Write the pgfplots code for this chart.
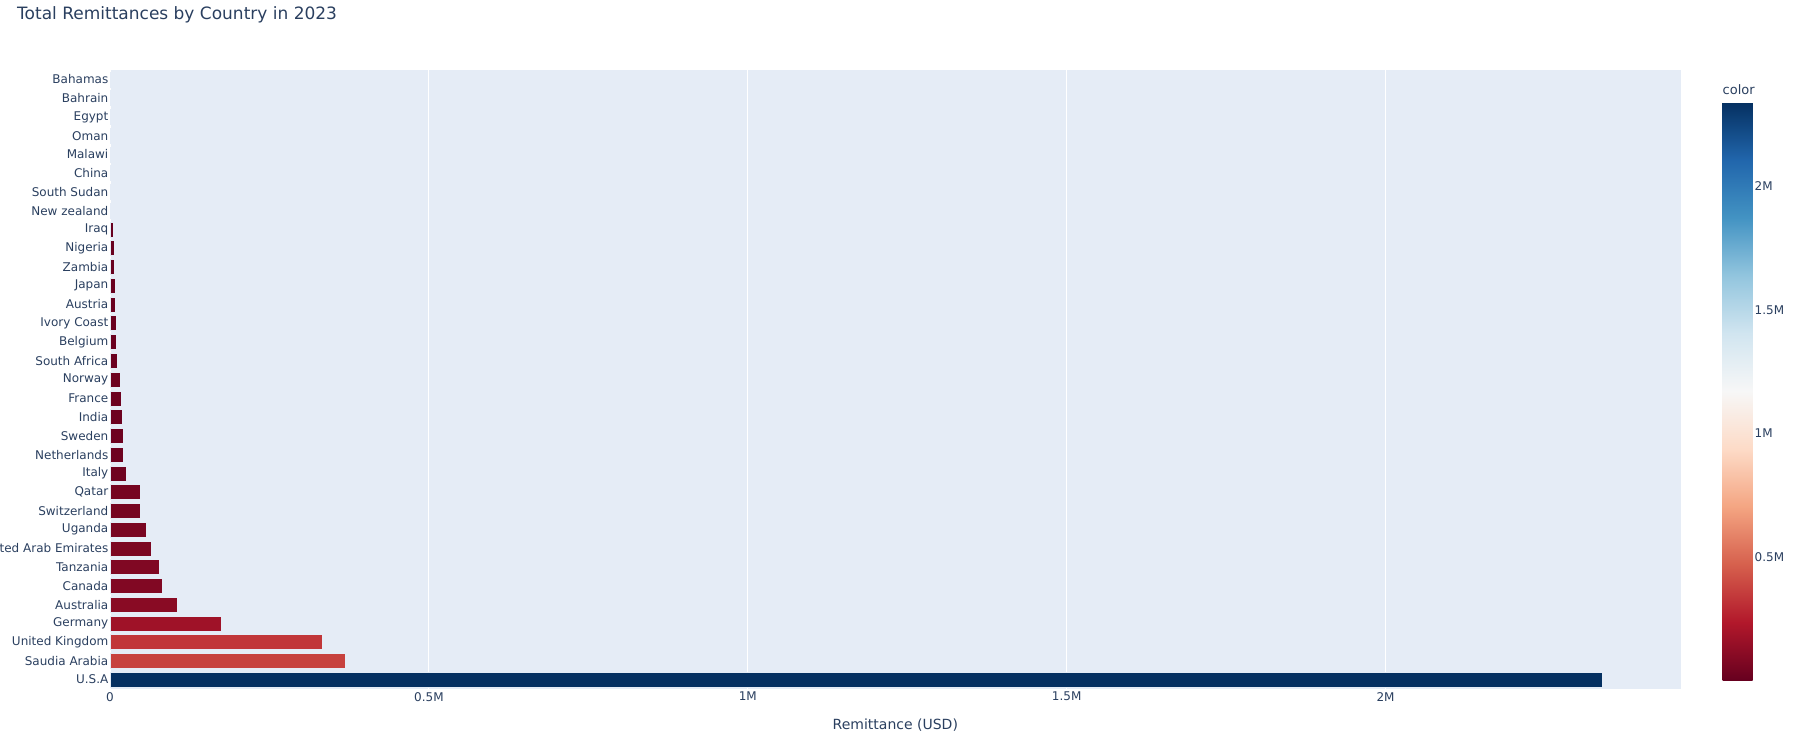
\documentclass[border=0pt]{standalone}
\usepackage{pgfplots}
\pgfplotsset{compat=1.18}
\usepackage{fontspec}
\setmainfont{DejaVu Sans}
\definecolor{txt}{RGB}{42,63,95}
\definecolor{bgc}{RGB}{229,236,246}
\definecolor{cz}{RGB}{103,0,31}
\definecolor{co}{RGB}{178,24,43}
\definecolor{ct}{RGB}{214,96,77}
\definecolor{cten}{RGB}{5,48,97}
\begin{document}
\begin{tikzpicture}
\useasboundingbox (0,0) rectangle (1811pt,744pt);
\node[anchor=base west, text=txt, font=\fontsize{17}{20}\selectfont, inner sep=0pt] at (17pt,724pt) {Total Remittances by Country in 2023};
\begin{axis}[
  at={(110pt,55pt)}, anchor=south west,
  scale only axis, width=1570.7pt, height=619pt,
  xmin=0, xmax=2.4627, ymin=-0.5, ymax=32.5,
  axis background/.style={fill=bgc},
  axis line style={draw=none},
  xmajorgrids, grid style={white, line width=1pt},
  xtick={0,0.5,1,1.5,2}, xticklabels={0,0.5M,1M,1.5M,2M},
  ytick={0,...,32},
  yticklabels={U.S.A,Saudia Arabia,United Kingdom,Germany,Australia,Canada,Tanzania,United Arab Emirates,Uganda,Switzerland,Qatar,Italy,Netherlands,Sweden,India,France,Norway,South Africa,Belgium,Ivory Coast,Austria,Japan,Zambia,Nigeria,Iraq,New zealand,South Sudan,China,Malawi,Oman,Egypt,Bahrain,Bahamas},
  major tick length=0pt,
  tick label style={text=txt, font=\fontsize{12}{14}\selectfont},
  yticklabel style={inner sep=1.5pt},
  xticklabel style={inner sep=3pt},
  xlabel={Remittance (USD)},
  xlabel style={at={(axis description cs:0.5,0)}, anchor=center, yshift=-36pt, text=txt, font=\fontsize{14}{16}\selectfont},
  colormap={RdBu}{rgb255=(103,0,31) rgb255=(178,24,43) rgb255=(214,96,77) rgb255=(244,165,130) rgb255=(253,219,199) rgb255=(247,247,247) rgb255=(209,229,240) rgb255=(146,197,222) rgb255=(67,147,195) rgb255=(33,102,172) rgb255=(5,48,97)},
  point meta min=0.004, point meta max=2.339,
  colorbar,
  colorbar/width=30pt,
  colorbar style={
    at={(parent axis.north east)}, anchor=north west,
    xshift=33.3pt, yshift=-32.3pt,
    scale only axis,
    width=30pt, height=577.7pt,
    axis line style={draw=none},
    major tick length=0pt,
    ytick={0.5,1,1.5,2}, yticklabels={0.5M,1M,1.5M,2M},
    yticklabel style={text=txt, font=\fontsize{12}{14}\selectfont, inner sep=2pt},
    title={color},
    title style={at={(0,1)}, anchor=south west, xshift=0pt, yshift=1pt, inner sep=0pt, text=txt, font=\fontsize{13}{15}\selectfont},
  },
  mybar/.style={xbar, bar shift=0pt, bar width=0.8, draw=bgc, line width=0.5pt},
]
\addplot[mybar, fill=cten] coordinates {(2.339,0)};
\addplot[mybar, fill=ct!57!co] coordinates {(0.3685,1)};
\addplot[mybar, fill=ct!42!co] coordinates {(0.333,2)};
\addplot[mybar, fill=co!75!cz] coordinates {(0.175,3)};
\addplot[mybar, fill=co!45!cz] coordinates {(0.106,4)};
\addplot[mybar, fill=co!35!cz] coordinates {(0.082,5)};
\addplot[mybar, fill=co!33!cz] coordinates {(0.0773,6)};
\addplot[mybar, fill=co!28!cz] coordinates {(0.0653,7)};
\addplot[mybar, fill=co!24!cz] coordinates {(0.0564,8)};
\addplot[mybar, fill=co!20!cz] coordinates {(0.0476,9)};
\addplot[mybar, fill=co!20!cz] coordinates {(0.047,10)};
\addplot[mybar, fill=co!11!cz] coordinates {(0.025,11)};
\addplot[mybar, fill=co!9!cz] coordinates {(0.0206,12)};
\addplot[mybar, fill=co!9!cz] coordinates {(0.0202,13)};
\addplot[mybar, fill=co!8!cz] coordinates {(0.0193,14)};
\addplot[mybar, fill=co!8!cz] coordinates {(0.0178,15)};
\addplot[mybar, fill=co!7!cz] coordinates {(0.0157,16)};
\addplot[mybar, fill=co!5!cz] coordinates {(0.011,17)};
\addplot[mybar, fill=co!4!cz] coordinates {(0.0105,18)};
\addplot[mybar, fill=co!4!cz] coordinates {(0.0094,19)};
\addplot[mybar, fill=co!4!cz] coordinates {(0.0089,20)};
\addplot[mybar, fill=co!4!cz] coordinates {(0.0084,21)};
\addplot[mybar, fill=co!3!cz] coordinates {(0.0073,22)};
\addplot[mybar, fill=co!3!cz] coordinates {(0.006,23)};
\addplot[mybar, fill=co!2!cz] coordinates {(0.0058,24)};
\addplot[mybar, fill=co!1!cz] coordinates {(0.002,25)};
\addplot[mybar, fill=co!1!cz] coordinates {(0.0017,26)};
\addplot[mybar, fill=co!1!cz] coordinates {(0.0016,27)};
\addplot[mybar, fill=co!1!cz] coordinates {(0.0015,28)};
\addplot[mybar, fill=co!1!cz] coordinates {(0.0015,29)};
\addplot[mybar, fill=co!1!cz] coordinates {(0.0015,30)};
\addplot[mybar, fill=cz] coordinates {(0.001,31)};
\addplot[mybar, fill=cz] coordinates {(0.0003,32)};
\end{axis}
\end{tikzpicture}
\end{document}
